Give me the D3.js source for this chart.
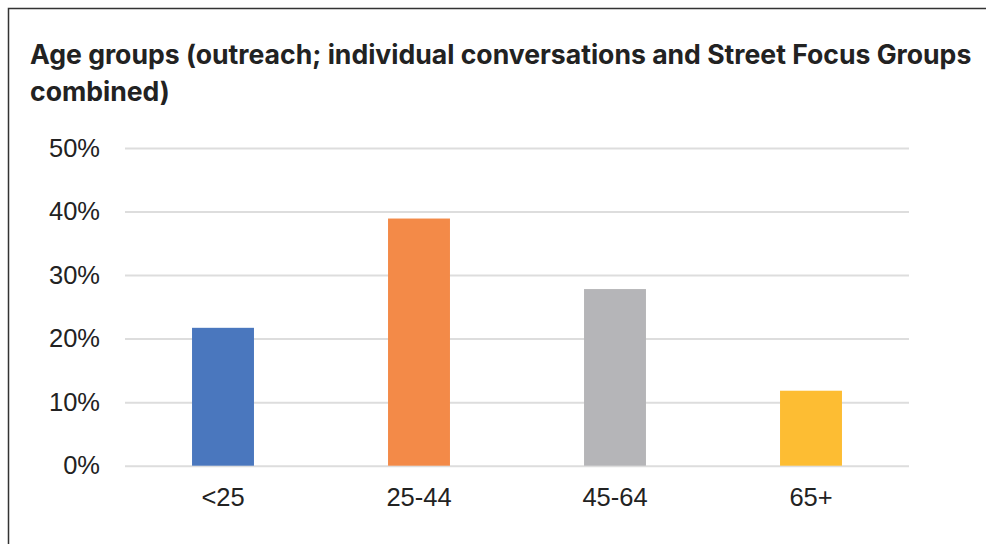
<!DOCTYPE html>
<html>
<head>
<meta charset="utf-8">
<script src="https://cdn.jsdelivr.net/npm/d3@7/dist/d3.min.js"></script>
<style>
  html, body { margin: 0; padding: 0; background: #fff; }
  svg { display: block; }
</style>
</head>
<body>
<svg id="chart" width="986" height="544"></svg>
<script>
const titleLines = ["Age groups (outreach; individual conversations and Street Focus Groups", "combined)"];
const categories = ["<25", "25-44", "45-64", "65+"];
const values = [0.217, 0.389, 0.278, 0.118];
const colors = ["#4A77BE", "#F38A48", "#B5B5B8", "#FDBD33"];
const yTicks = [0, 0.1, 0.2, 0.3, 0.4, 0.5];

const svg = d3.select("#chart");
const W = 986, H = 544;

// outer frame
svg.append("rect")
  .attr("x", 8.5).attr("y", 8.5)
  .attr("width", W + 20).attr("height", H + 20)
  .attr("fill", "none").attr("stroke", "#333").attr("stroke-width", 1.5);

// title
const title = svg.append("text")
  .attr("font-family", "Inter, 'Open Sans', sans-serif")
  .attr("font-weight", "bold")
  .attr("font-size", 24)
  .attr("fill", "#222");
title.selectAll("tspan").data(titleLines).join("tspan")
  .attr("x", 30)
  .attr("y", (d, i) => 63.5 + i * 37)
  .text(d => d);
const firstLen = title.select("tspan").node().getComputedTextLength();
if (firstLen > 0) {
  const fs = 24 * 942 / firstLen;
  title.attr("font-size", Math.min(27, Math.max(21, fs)));
}

const margin = { left: 125, right: 77 };
const x = d3.scaleBand()
  .domain(categories)
  .range([margin.left, W - margin.right])
  .paddingInner(0.684)
  .paddingOuter(0.342);
const y = d3.scaleLinear()
  .domain([0, 0.5])
  .range([465.7, 148]);

// gridlines
const yAxis = d3.axisLeft(y)
  .tickValues(yTicks)
  .tickSize(-(W - margin.right - margin.left))
  .tickPadding(25)
  .tickFormat(d3.format(".0%"));
const gy = svg.append("g")
  .attr("transform", `translate(${margin.left},0)`)
  .call(yAxis);
gy.select(".domain").remove();
gy.selectAll(".tick line").attr("stroke", "#DDDDDD").attr("stroke-width", 2);
gy.selectAll(".tick text")
  .attr("font-family", "'Liberation Sans', Arial, sans-serif")
  .attr("font-size", 25.5)
  .attr("fill", "#222");

// bars
svg.append("g").selectAll("rect").data(categories).join("rect")
  .attr("x", d => x(d))
  .attr("width", x.bandwidth())
  .attr("y", (d, i) => y(values[i]))
  .attr("height", (d, i) => y(0) - y(values[i]))
  .attr("fill", (d, i) => colors[i]);

// x axis labels
const xAxis = d3.axisBottom(x).tickSize(0).tickPadding(22);
const gx = svg.append("g")
  .attr("transform", `translate(0,${y(0)})`)
  .call(xAxis);
gx.select(".domain").remove();
gx.selectAll(".tick text")
  .attr("font-family", "'Liberation Sans', Arial, sans-serif")
  .attr("font-size", 25.5)
  .attr("fill", "#222");
</script>
</body>
</html>
